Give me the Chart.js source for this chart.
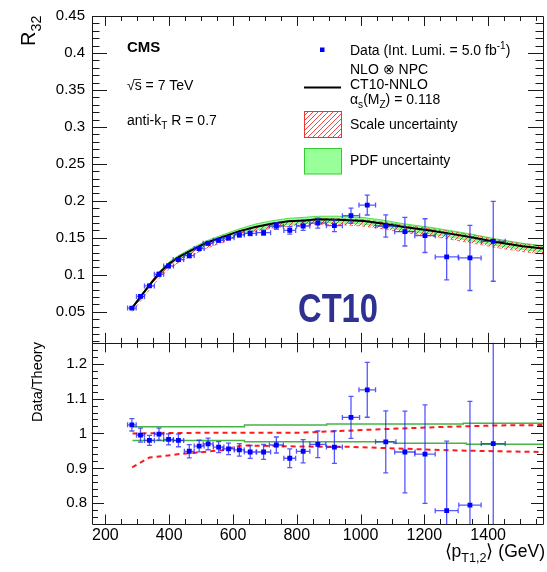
<!DOCTYPE html>
<html>
<head>
<meta charset="utf-8">
<script src="https://cdn.jsdelivr.net/npm/chart.js@4.4.1/dist/chart.umd.min.js"></script>
<style>
  html, body { margin: 0; padding: 0; background: #fff; overflow: hidden; }
  #wrap { position: relative; width: 547px; height: 572px; }
</style>
</head>
<body>
<div id="wrap"><canvas id="c" width="547" height="572"></canvas></div>
<script>
// ---- measured dijet ratio R32 versus <pT1,2> (GeV) ----
const ptCenters    = [283, 310, 338, 368, 398, 429, 463, 494, 522, 555, 586, 620, 654, 696, 736, 778, 820, 866, 918, 970, 1021, 1079, 1139, 1202, 1270, 1343, 1416];
const ptHalfWidths = [13.5, 12.5, 15.5, 14.5, 15.5, 16.5, 15.5, 15.5, 15.5, 16.5, 17.5, 15.5, 18.5, 22, 22, 18.5, 21, 25, 25, 27, 26, 32, 32, 32, 36, 35, 37.5];
const r32Values    = [0.055, 0.0708, 0.085, 0.1008, 0.112, 0.1206, 0.126, 0.1355, 0.1426, 0.1467, 0.150, 0.154, 0.156, 0.157, 0.166, 0.160, 0.166, 0.170, 0.1665, 0.180, 0.1943, 0.166, 0.1584, 0.153, 0.1242, 0.1228, 0.1453];
const r32Errors    = [0.0015, 0.002, 0.002, 0.0025, 0.0025, 0.0025, 0.003, 0.0025, 0.0025, 0.0025, 0.003, 0.003, 0.003, 0.0035, 0.0045, 0.005, 0.006, 0.0068, 0.008, 0.0102, 0.0134, 0.015, 0.0194, 0.0228, 0.031, 0.044, 0.054];

// ---- data / theory ratio ----
const ratioValues  = [1.0246, 0.995, 0.98, 0.998, 0.983, 0.98, 0.949, 0.964, 0.970, 0.961, 0.956, 0.953, 0.947, 0.947, 0.967, 0.929, 0.949, 0.969, 0.961, 1.046, 1.125, 0.976, 0.947, 0.941, 0.779, 0.795, 0.971];
const ratioErrors  = [0.0176, 0.02, 0.0143, 0.017, 0.0157, 0.018, 0.019, 0.0166, 0.0166, 0.0157, 0.0166, 0.018, 0.0186, 0.0214, 0.0229, 0.027, 0.0333, 0.038, 0.0466, 0.06, 0.0786, 0.0886, 0.117, 0.141, 0.199, 0.297, 0.36];

// ---- NLO x NPC prediction (CT10-NNLO) with its bands ----
const theoryPt     = [285, 314, 340, 369, 400, 431, 463, 515, 566, 618, 670, 721, 773, 825, 866, 929, 1011, 1073, 1136, 1218, 1280, 1343, 1425, 1508, 1572];
const theoryR32    = [0.056, 0.0725, 0.087, 0.1026, 0.1153, 0.1242, 0.1318, 0.143, 0.151, 0.1588, 0.1646, 0.169, 0.1723, 0.1736, 0.175, 0.1746, 0.1727, 0.1692, 0.1646, 0.160, 0.1557, 0.151, 0.1444, 0.1386, 0.1355];
const pdfLowR32    = [0.0549, 0.0711, 0.0853, 0.1006, 0.1130, 0.1217, 0.1292, 0.1401, 0.1480, 0.1556, 0.1607, 0.1649, 0.1682, 0.1694, 0.1708, 0.1704, 0.1686, 0.1651, 0.1600, 0.1555, 0.1513, 0.1463, 0.1399, 0.1343, 0.1313];
const pdfHighR32   = [0.0571, 0.0739, 0.0887, 0.1046, 0.1175, 0.1266, 0.1343, 0.1457, 0.1539, 0.1618, 0.1686, 0.1731, 0.1764, 0.1778, 0.1792, 0.1793, 0.1774, 0.1738, 0.1690, 0.1643, 0.1599, 0.1554, 0.1486, 0.1426, 0.1394];
const scaleLowR32  = [0.0506, 0.0666, 0.0810, 0.0958, 0.1082, 0.1169, 0.1243, 0.1356, 0.1438, 0.1529, 0.1588, 0.1629, 0.1659, 0.1670, 0.1684, 0.1680, 0.1658, 0.1621, 0.1574, 0.1526, 0.1482, 0.1436, 0.1370, 0.1314, 0.1283];
const scaleHighR32 = [0.0560, 0.0725, 0.0870, 0.1026, 0.1153, 0.1243, 0.1319, 0.1433, 0.1513, 0.1591, 0.1649, 0.1693, 0.1726, 0.1741, 0.1757, 0.1758, 0.1744, 0.1712, 0.1671, 0.1627, 0.1587, 0.1542, 0.1477, 0.1419, 0.1387];

// ---- band edges relative to the prediction ----
const pdfHighRatioPt   = [285, 636, 636, 894, 894, 1322, 1322, 1572];
const pdfHighRatio     = [1.019, 1.019, 1.024, 1.024, 1.027, 1.027, 1.029, 1.029];
const pdfLowRatioPt    = [285, 636, 636, 1104, 1104, 1332, 1332, 1572];
const pdfLowRatio      = [0.980, 0.980, 0.976, 0.976, 0.972, 0.972, 0.969, 0.969];
const scaleHighRatioPt = [285, 511, 804, 959, 1115, 1270, 1425, 1572];
const scaleHighRatio   = [1.000, 1.002, 1.002, 1.008, 1.014, 1.019, 1.023, 1.024];
const scaleLowRatioPt  = [284, 308, 338, 379, 431, 483, 566, 628, 721, 866, 959, 1115, 1270, 1425, 1572];
const scaleLowRatio    = [0.903, 0.916, 0.931, 0.935, 0.941, 0.945, 0.952, 0.966, 0.964, 0.962, 0.962, 0.957, 0.952, 0.949, 0.947];

// ---- axis ticks ----
const xTickValues     = [200, 400, 600, 800, 1000, 1200, 1400];
const r32TickValues   = [0.05, 0.1, 0.15, 0.2, 0.25, 0.3, 0.35, 0.4, 0.45];
const r32TickLabels   = ['0.05', '0.1', '0.15', '0.2', '0.25', '0.3', '0.35', '0.4', '0.45'];
const ratioTickValues = [0.8, 0.9, 1.0, 1.1, 1.2];
const ratioTickLabels = ['0.8', '0.9', '1', '1.1', '1.2'];

const FONT = '"Liberation Sans", Arial, Helvetica, sans-serif';
const BLUE = '#0000ff';
const BAR = 'rgba(30,30,255,0.75)';

const pairs = (xs, ys) => xs.map((x, i) => ({ x, y: ys[i] }));

// red "/" hatching for the scale band
function makeHatch() {
  const c = document.createElement('canvas');
  c.width = 5; c.height = 5;
  const g = c.getContext('2d');
  g.strokeStyle = 'rgba(235,40,40,0.95)';
  g.lineWidth = 0.9;
  g.beginPath();
  g.moveTo(-1, 6); g.lineTo(6, -1);
  g.moveTo(-1, 1); g.lineTo(1, -1);
  g.moveTo(4, 6); g.lineTo(6, 4);
  g.stroke();
  return g.createPattern(c, 'repeat');
}
const hatch = makeHatch();

// text with sub/superscript parts: [{t, s: 'sub'|'sup'}]
function richWidth(ctx, parts, size, weight) {
  let w = 0;
  for (const p of parts) {
    const fs = p.s ? size * 0.72 : size;
    ctx.font = (weight || '') + ' ' + fs + 'px ' + FONT;
    w += ctx.measureText(p.t).width;
  }
  return w;
}
function richText(ctx, parts, x, y, size, opts) {
  opts = opts || {};
  const weight = opts.weight || '';
  ctx.save();
  ctx.fillStyle = opts.color || '#000';
  ctx.textBaseline = 'alphabetic';
  ctx.textAlign = 'left';
  let cx = x;
  if (opts.align === 'right') cx = x - richWidth(ctx, parts, size, weight);
  if (opts.align === 'center') cx = x - richWidth(ctx, parts, size, weight) / 2;
  for (const p of parts) {
    const fs = p.s ? size * 0.72 : size;
    ctx.font = weight + ' ' + fs + 'px ' + FONT;
    let dy = 0;
    if (p.s === 'sub') dy = size * 0.3;
    if (p.s === 'sup') dy = -size * 0.4;
    ctx.fillText(p.t, cx, y + dy);
    cx += ctx.measureText(p.t).width;
  }
  ctx.restore();
}

function drawErrorBars(ctx, chart, yScale, ys, errs) {
  const xs = chart.scales.x;
  const area = chart.chartArea;
  ctx.save();
  ctx.beginPath();
  ctx.rect(area.left, yScale.top, area.right - area.left, yScale.bottom - yScale.top);
  ctx.clip();
  ctx.strokeStyle = BAR;
  ctx.lineWidth = 1.3;
  for (let i = 0; i < ptCenters.length; i++) {
    const px = xs.getPixelForValue(ptCenters[i]);
    const x0 = xs.getPixelForValue(ptCenters[i] - ptHalfWidths[i]);
    const x1 = xs.getPixelForValue(ptCenters[i] + ptHalfWidths[i]);
    const py = yScale.getPixelForValue(ys[i]);
    const y0 = yScale.getPixelForValue(ys[i] - errs[i]);
    const y1 = yScale.getPixelForValue(ys[i] + errs[i]);
    ctx.beginPath();
    ctx.moveTo(x0, py); ctx.lineTo(x1, py);
    ctx.moveTo(x0, py - 2.5); ctx.lineTo(x0, py + 2.5);
    ctx.moveTo(x1, py - 2.5); ctx.lineTo(x1, py + 2.5);
    ctx.moveTo(px, y0); ctx.lineTo(px, y1);
    ctx.moveTo(px - 2.5, y0); ctx.lineTo(px + 2.5, y0);
    ctx.moveTo(px - 2.5, y1); ctx.lineTo(px + 2.5, y1);
    ctx.stroke();
  }
  ctx.restore();
}

// ROOT-like frame with inward ticks on all four sides
function drawFrame(ctx, xs, ys, yFrom, yTo, yStep, yEvery, yMaj, yMin, xMaj, xMin) {
  const L = xs.left, R = xs.right, T = ys.top, B = ys.bottom;
  ctx.save();
  ctx.strokeStyle = '#1a1a1a';
  ctx.lineWidth = 1;
  ctx.beginPath();
  ctx.rect(Math.round(L) + 0.5, Math.round(T) + 0.5, Math.round(R - L), Math.round(B - T));
  ctx.stroke();
  ctx.beginPath();
  for (let v = 200; v <= 1550; v += 50) {
    const px = Math.round(xs.getPixelForValue(v)) + 0.5;
    const len = v % 200 === 0 ? xMaj : xMin;
    ctx.moveTo(px, B); ctx.lineTo(px, B - len);
    ctx.moveTo(px, T); ctx.lineTo(px, T + len);
  }
  for (let i = yFrom; i <= yTo; i++) {
    const v = i * yStep;
    if (v < ys.min || v > ys.max) continue;
    const py = Math.round(ys.getPixelForValue(v)) + 0.5;
    const len = i % yEvery === 0 ? yMaj : yMin;
    ctx.moveTo(L, py); ctx.lineTo(L + len, py);
    ctx.moveTo(R, py); ctx.lineTo(R - len, py);
  }
  ctx.stroke();
  ctx.restore();
}

const panelsPlugin = {
  id: 'panels',
  beforeDatasetDraw(chart, args) {
    const ctx = chart.ctx;
    if (args.index === 0) drawErrorBars(ctx, chart, chart.scales.yTop, r32Values, r32Errors);
    if (args.index === 1) drawErrorBars(ctx, chart, chart.scales.yBot, ratioValues, ratioErrors);
  },
  afterDraw(chart) {
    const ctx = chart.ctx;
    const xs = chart.scales.x, yt = chart.scales.yTop, yb = chart.scales.yBot;
    drawFrame(ctx, xs, yt, 1, 45, 0.01, 5, 15, 7.5, 10, 5);
    drawFrame(ctx, xs, yb, 37, 63, 0.02, 5, 12, 6, 9.5, 5);

    // axis titles
    ctx.save();
    ctx.translate(35, 46);
    ctx.rotate(-Math.PI / 2);
    richText(ctx, [{ t: 'R' }, { t: '32', s: 'sub' }], 0, 0, 20);
    ctx.restore();

    ctx.save();
    ctx.translate(42, 382);
    ctx.rotate(-Math.PI / 2);
    richText(ctx, [{ t: 'Data/Theory' }], 0, 0, 14.5, { align: 'center' });
    ctx.restore();

    richText(ctx, [{ t: '\u27E8p' }, { t: 'T1,2', s: 'sub' }, { t: '\u27E9 (GeV)' }], 545, 557, 17.5, { align: 'right' });

    // annotations
    richText(ctx, [{ t: 'CMS' }], 127, 52, 15, { weight: 'bold' });
    richText(ctx, [{ t: '\u221As = 7 TeV' }], 127, 90, 14);
    ctx.save();
    ctx.strokeStyle = '#000'; ctx.lineWidth = 0.8;
    ctx.beginPath(); ctx.moveTo(134, 79.5); ctx.lineTo(141, 79.5); ctx.stroke();
    ctx.restore();
    richText(ctx, [{ t: 'anti-k' }, { t: 'T', s: 'sub' }, { t: ' R = 0.7' }], 127, 125, 14);

    // legend
    ctx.save();
    ctx.fillStyle = BLUE;
    ctx.fillRect(320, 47.5, 4.5, 4.5);
    ctx.strokeStyle = '#000'; ctx.lineWidth = 2;
    ctx.beginPath(); ctx.moveTo(304, 87.5); ctx.lineTo(341, 87.5); ctx.stroke();
    ctx.fillStyle = hatch;
    ctx.fillRect(304, 111, 37.5, 26.5);
    ctx.strokeStyle = '#ee3333'; ctx.lineWidth = 1;
    ctx.strokeRect(304.5, 111.5, 37, 26);
    ctx.fillStyle = '#99ff99';
    ctx.fillRect(304, 148, 37.5, 26);
    ctx.strokeStyle = '#33cc33';
    ctx.strokeRect(304.5, 148.5, 37, 25.5);
    ctx.restore();
    richText(ctx, [{ t: 'Data (Int. Lumi. = 5.0 fb' }, { t: '-1', s: 'sup' }, { t: ')' }], 350, 54.5, 14);
    richText(ctx, [{ t: 'NLO \u2297 NPC' }], 350, 73.5, 14);
    richText(ctx, [{ t: 'CT10-NNLO' }], 350, 89, 14);
    richText(ctx, [{ t: '\u03B1' }, { t: 's', s: 'sub' }, { t: '(M' }, { t: 'Z', s: 'sub' }, { t: ') = 0.118' }], 350, 103.5, 14);
    richText(ctx, [{ t: 'Scale uncertainty' }], 350, 129, 14);
    richText(ctx, [{ t: 'PDF uncertainty' }], 350, 165, 14);

    // PDF set tag
    ctx.save();
    ctx.fillStyle = 'rgb(46,49,146)';
    ctx.font = 'bold 40px ' + FONT;
    ctx.textBaseline = 'alphabetic';
    ctx.fillText('CT10', 298, 322, 80);
    ctx.restore();
  }
};

const lineDs = (data, axis, color, width, dash, order, extra) => Object.assign({
  data, yAxisID: axis, showLine: true, borderColor: color, borderWidth: width,
  borderDash: dash || [], pointRadius: 0, pointHoverRadius: 0, fill: false, order, tension: 0
}, extra || {});

const chart = new Chart(document.getElementById('c'), {
  type: 'scatter',
  data: {
    datasets: [
      { data: pairs(ptCenters, r32Values), yAxisID: 'yTop', pointStyle: 'rect', radius: 3.4,
        backgroundColor: BLUE, borderColor: BLUE, borderWidth: 0, showLine: false, order: 0 },
      { data: pairs(ptCenters, ratioValues), yAxisID: 'yBot', pointStyle: 'rect', radius: 3.4,
        backgroundColor: BLUE, borderColor: BLUE, borderWidth: 0, showLine: false, order: 0 },
      lineDs(pairs(theoryPt, theoryR32), 'yTop', '#000', 2, null, 1),
      lineDs(pairs(theoryPt, scaleHighR32), 'yTop', 'rgba(240,50,50,0.7)', 1, [3, 3], 2, { fill: '+1', backgroundColor: hatch }),
      lineDs(pairs(theoryPt, scaleLowR32), 'yTop', 'rgba(240,50,50,0.7)', 1, [3, 3], 2),
      lineDs(pairs(theoryPt, pdfHighR32), 'yTop', 'rgba(60,210,60,0.8)', 1, null, 3, { fill: '+1', backgroundColor: 'rgba(140,255,140,0.9)' }),
      lineDs(pairs(theoryPt, pdfLowR32), 'yTop', 'rgba(60,210,60,0.8)', 1, null, 3),
      lineDs(pairs(pdfHighRatioPt, pdfHighRatio), 'yBot', 'rgb(70,180,70)', 1.5, null, 4),
      lineDs(pairs(pdfLowRatioPt, pdfLowRatio), 'yBot', 'rgb(70,180,70)', 1.5, null, 4),
      lineDs(pairs(scaleHighRatioPt, scaleHighRatio), 'yBot', '#ff1a1a', 2, [5, 4], 4),
      lineDs(pairs(scaleLowRatioPt, scaleLowRatio), 'yBot', '#ff1a1a', 2, [5, 4], 4)
    ]
  },
  options: {
    responsive: false,
    animation: false,
    devicePixelRatio: 1,
    layout: { padding: { top: 15, left: 0, right: 0, bottom: 0 } },
    plugins: { legend: { display: false }, tooltip: { enabled: false } },
    events: [],
    scales: {
      x: {
        type: 'linear', position: 'bottom', min: 158, max: 1572,
        afterFit: s => { s.height = 48; },
        afterBuildTicks: s => { s.ticks = xTickValues.map(v => ({ value: v })); },
        ticks: { autoSkip: false, maxRotation: 0, padding: 2, color: '#000',
                 font: { family: FONT, size: 16 }, callback: v => String(v) },
        grid: { display: false, drawTicks: false },
        border: { display: false }
      },
      yTop: {
        type: 'linear', position: 'left', stack: 'panels', stackWeight: 327.5, weight: 2,
        min: 0.008, max: 0.45,
        afterFit: s => { s.width = 92; },
        afterBuildTicks: s => { s.ticks = r32TickValues.map(v => ({ value: v })); },
        ticks: { padding: 7, color: '#000', font: { family: FONT, size: 15 },
                 callback: (v, i) => r32TickLabels[i] },
        grid: { display: false, drawTicks: false },
        border: { display: false }
      },
      yBot: {
        type: 'linear', position: 'left', stack: 'panels', stackWeight: 181.5, weight: 1,
        min: 0.7408, max: 1.2594,
        afterFit: s => { s.width = 92; },
        afterBuildTicks: s => { s.ticks = ratioTickValues.map(v => ({ value: v })); },
        ticks: { padding: 5, color: '#000', font: { family: FONT, size: 15 },
                 callback: (v, i) => ratioTickLabels[i] },
        grid: { display: false, drawTicks: false },
        border: { display: false }
      }
    }
  },
  plugins: [panelsPlugin]
});
</script>
</body>
</html>
